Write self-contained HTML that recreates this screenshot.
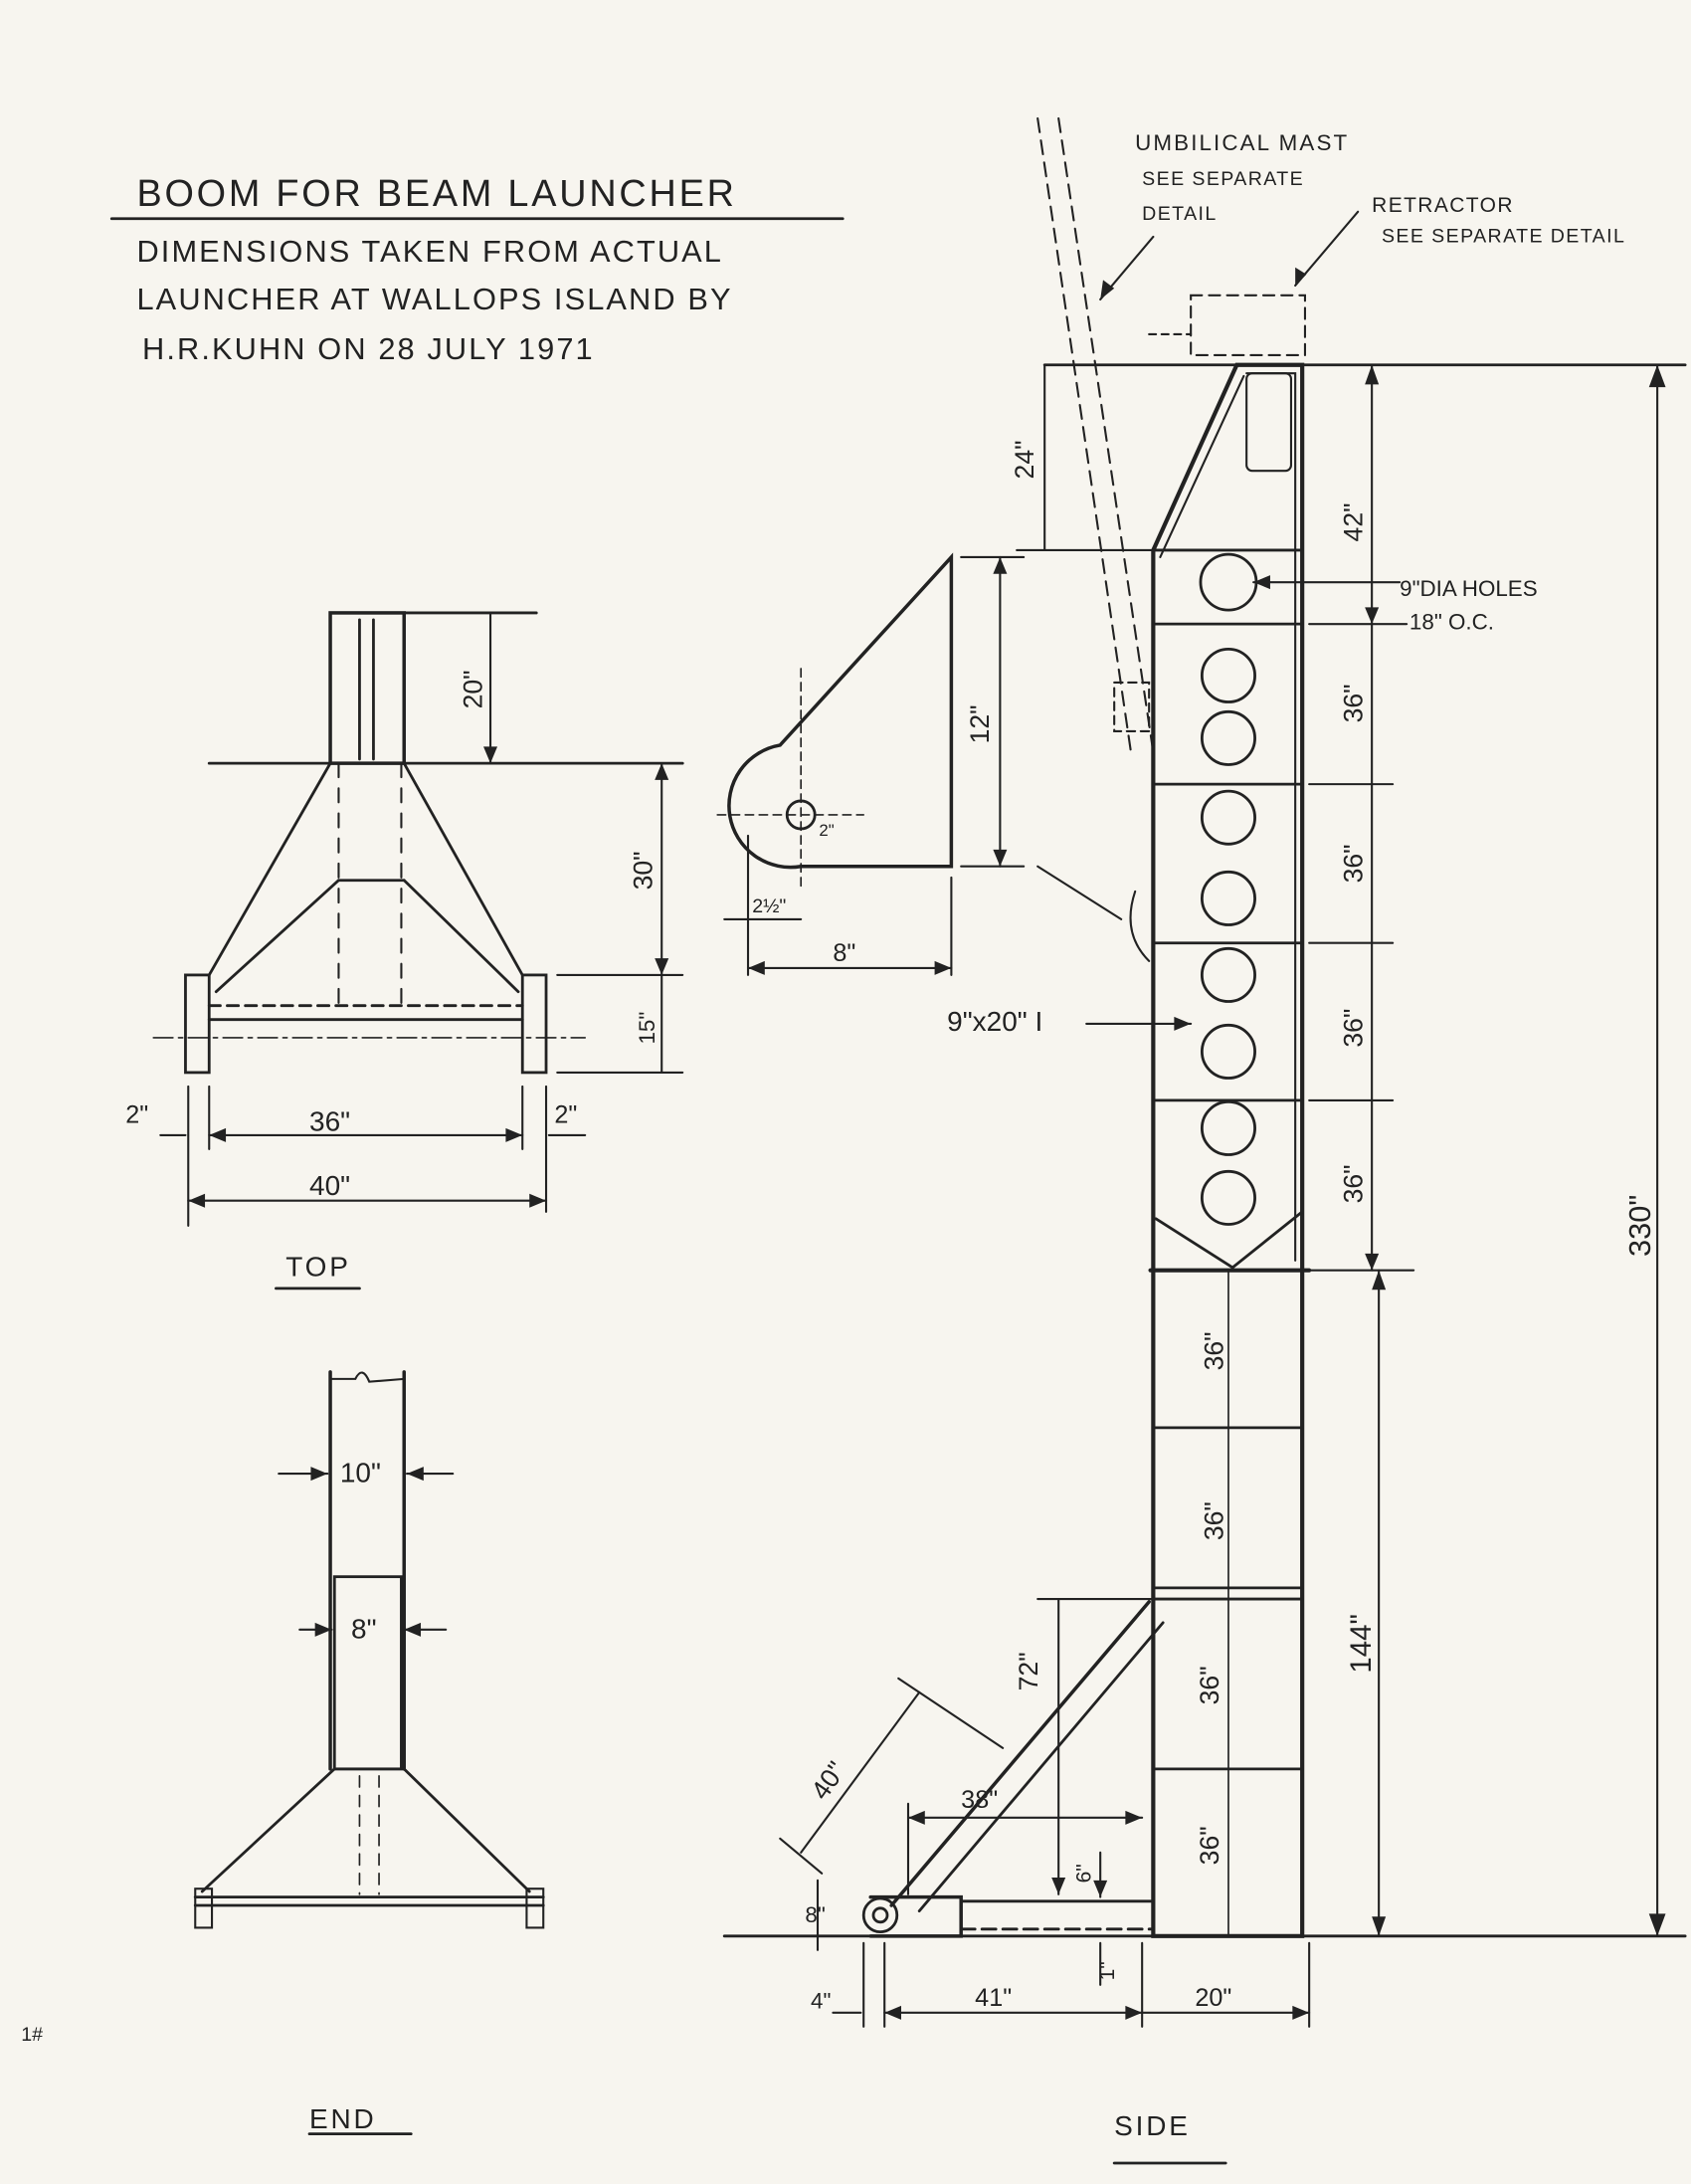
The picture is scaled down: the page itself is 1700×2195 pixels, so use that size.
<!DOCTYPE html>
<html><head><meta charset="utf-8"><style>
html,body{margin:0;padding:0;background:#f7f5ef;}
svg{display:block}
text{font-family:"Liberation Sans",sans-serif;fill:#222;}
</style></head><body>
<svg width="1700" height="2195" viewBox="0 0 1214 1568" xmlns="http://www.w3.org/2000/svg">
<rect width="1214" height="1568" fill="#f7f5ef"/>
<g stroke="#222" stroke-width="2" fill="none" stroke-linecap="round">
<!-- title underline -->
<line x1="80" y1="157" x2="605" y2="157"/>
<!-- umbilical mast dashed -->
<line x1="745" y1="85" x2="812" y2="540" stroke-dasharray="10,6" stroke-width="1.5"/>
<line x1="760" y1="85" x2="828" y2="540" stroke-dasharray="10,6" stroke-width="1.5"/>
<rect x="800" y="490" width="25" height="35" stroke-dasharray="6,4" stroke-width="1.5"/>
<!-- retractor dashed -->
<rect x="855" y="212" width="82" height="43" stroke-dasharray="8,5" stroke-width="1.5"/>
<line x1="825" y1="240" x2="855" y2="240" stroke-dasharray="5,4" stroke-width="1.5"/>
<line x1="828" y1="170" x2="790" y2="215" stroke-width="1.5"/>
<line x1="975" y1="152" x2="930" y2="205" stroke-width="1.5"/>
<!-- main beam -->
<path d="M888 262 L935 262 L935 1390 L828 1390 L828 395 Z" stroke-width="3"/>
<path d="M895 268 L930 268 L930 905" stroke-width="1.5"/>
<path d="M833 400 L893 270" stroke-width="1.5"/>
<rect x="895" y="268" width="32" height="70" rx="4" stroke-width="1.5"/>
<line x1="828" y1="395" x2="935" y2="395"/>
<line x1="828" y1="448" x2="935" y2="448"/>
<line x1="828" y1="563" x2="935" y2="563"/>
<line x1="828" y1="677" x2="935" y2="677"/>
<line x1="828" y1="790" x2="935" y2="790"/>
<path d="M830 875 L885 910 L935 870"/>
<line x1="826" y1="912" x2="940" y2="912" stroke-width="3"/>
<line x1="828" y1="1025" x2="935" y2="1025"/>
<line x1="828" y1="1140" x2="935" y2="1140"/>
<line x1="828" y1="1148" x2="935" y2="1148"/>
<line x1="828" y1="1270" x2="935" y2="1270"/>
<g stroke-width="2">
<circle cx="882" cy="418" r="20"/><circle cx="882" cy="485" r="19"/><circle cx="882" cy="530" r="19"/>
<circle cx="882" cy="587" r="19"/><circle cx="882" cy="645" r="19"/><circle cx="882" cy="700" r="19"/>
<circle cx="882" cy="755" r="19"/><circle cx="882" cy="810" r="19"/><circle cx="882" cy="860" r="19"/>
</g>
<!-- extension lines -->
<line x1="750" y1="262" x2="1210" y2="262"/>
<line x1="520" y1="1390" x2="1210" y2="1390"/>
<line x1="940" y1="448" x2="1010" y2="448" stroke-width="1.5"/>
<line x1="940" y1="563" x2="1000" y2="563" stroke-width="1.5"/>
<line x1="940" y1="677" x2="1000" y2="677" stroke-width="1.5"/>
<line x1="940" y1="790" x2="1000" y2="790" stroke-width="1.5"/>
<line x1="940" y1="912" x2="1015" y2="912" stroke-width="1.5"/>
<!-- dim lines -->
<line x1="985" y1="262" x2="985" y2="912" stroke-width="1.5"/>
<line x1="990" y1="912" x2="990" y2="1390" stroke-width="1.5"/>
<line x1="1190" y1="262" x2="1190" y2="1390" stroke-width="1.5"/>
<line x1="882" y1="912" x2="882" y2="1390" stroke-width="1.2"/>
<line x1="900" y1="418" x2="1005" y2="418" stroke-width="1.5"/>
<!-- 24 dim -->
<line x1="750" y1="262" x2="750" y2="395" stroke-width="1.5"/>
<line x1="730" y1="395" x2="830" y2="395" stroke-width="1.5"/>
<!-- bracket -->
<path d="M683 400 L560 535 A40 40 0 0 0 575 622 L683 622 Z" stroke-width="2.5"/>
<circle cx="575" cy="585" r="10"/>
<line x1="515" y1="585" x2="620" y2="585" stroke-dasharray="6,4" stroke-width="1.2"/>
<line x1="575" y1="480" x2="575" y2="640" stroke-dasharray="6,4" stroke-width="1.2"/>
<line x1="718" y1="400" x2="718" y2="622" stroke-width="1.5"/>
<line x1="690" y1="400" x2="735" y2="400" stroke-width="1.5"/>
<line x1="690" y1="622" x2="735" y2="622" stroke-width="1.5"/>
<line x1="537" y1="600" x2="537" y2="700" stroke-width="1.5"/>
<line x1="537" y1="695" x2="683" y2="695" stroke-width="1.5"/>
<line x1="683" y1="630" x2="683" y2="700" stroke-width="1.5"/>
<line x1="520" y1="660" x2="575" y2="660" stroke-width="1.5"/>
<line x1="745" y1="622" x2="805" y2="660" stroke-width="1.5"/>
<path d="M815 640 Q805 670 825 690" stroke-width="1.5"/>
<line x1="780" y1="735" x2="855" y2="735" stroke-width="1.5"/>
<!-- TOP view -->
<rect x="237" y="440" width="53" height="108" stroke-width="2.5"/>
<line x1="258" y1="445" x2="258" y2="545"/><line x1="268" y1="445" x2="268" y2="545"/>
<line x1="150" y1="548" x2="490" y2="548"/>
<line x1="237" y1="548" x2="150" y2="700"/><line x1="290" y1="548" x2="375" y2="700"/>
<line x1="243" y1="632" x2="290" y2="632"/>
<line x1="243" y1="632" x2="155" y2="712"/><line x1="290" y1="632" x2="372" y2="712"/>
<line x1="243" y1="548" x2="243" y2="720" stroke-dasharray="10,8" stroke-width="1.5"/>
<line x1="288" y1="548" x2="288" y2="720" stroke-dasharray="10,8" stroke-width="1.5"/>
<line x1="150" y1="722" x2="375" y2="722" stroke-dasharray="8,5"/>
<line x1="150" y1="732" x2="375" y2="732"/>
<rect x="133" y="700" width="17" height="70"/><rect x="375" y="700" width="17" height="70"/>
<line x1="110" y1="745" x2="420" y2="745" stroke-dasharray="14,4,3,4" stroke-width="1.2"/>
<line x1="290" y1="440" x2="385" y2="440"/>
<line x1="352" y1="440" x2="352" y2="548" stroke-width="1.5"/>
<line x1="475" y1="548" x2="475" y2="770" stroke-width="1.5"/>
<line x1="400" y1="700" x2="490" y2="700" stroke-width="1.5"/>
<line x1="400" y1="770" x2="490" y2="770" stroke-width="1.5"/>
<line x1="135" y1="780" x2="135" y2="880" stroke-width="1.5"/>
<line x1="150" y1="780" x2="150" y2="825" stroke-width="1.5"/>
<line x1="375" y1="780" x2="375" y2="825" stroke-width="1.5"/>
<line x1="392" y1="780" x2="392" y2="870" stroke-width="1.5"/>
<line x1="150" y1="815" x2="375" y2="815" stroke-width="1.5"/>
<line x1="135" y1="862" x2="392" y2="862" stroke-width="1.5"/>
<line x1="115" y1="815" x2="133" y2="815" stroke-width="1.5"/>
<line x1="394" y1="815" x2="420" y2="815" stroke-width="1.5"/>
<line x1="198" y1="925" x2="258" y2="925"/>
<!-- END view -->
<line x1="237" y1="985" x2="237" y2="1270" stroke-width="2.5"/>
<line x1="290" y1="985" x2="290" y2="1270" stroke-width="2.5"/>
<path d="M237 990 L255 990 Q260 980 265 992 L290 990" stroke-width="1.5"/>
<line x1="200" y1="1058" x2="235" y2="1058" stroke-width="1.5"/>
<line x1="292" y1="1058" x2="325" y2="1058" stroke-width="1.5"/>
<rect x="240" y="1132" width="48" height="138" stroke-width="2"/>
<line x1="215" y1="1170" x2="238" y2="1170" stroke-width="1.5"/>
<line x1="290" y1="1170" x2="320" y2="1170" stroke-width="1.5"/>
<line x1="240" y1="1270" x2="290" y2="1270"/>
<line x1="240" y1="1270" x2="145" y2="1358"/><line x1="290" y1="1270" x2="380" y2="1358"/>
<line x1="258" y1="1275" x2="258" y2="1360" stroke-dasharray="8,6" stroke-width="1.2"/>
<line x1="272" y1="1275" x2="272" y2="1360" stroke-dasharray="8,6" stroke-width="1.2"/>
<line x1="140" y1="1362" x2="390" y2="1362"/>
<line x1="140" y1="1368" x2="390" y2="1368"/>
<rect x="140" y="1356" width="12" height="28" stroke-width="1.5"/>
<rect x="378" y="1356" width="12" height="28" stroke-width="1.5"/>
<line x1="222" y1="1532" x2="295" y2="1532"/>
<!-- lower side: strut -->
<line x1="640" y1="1368" x2="825" y2="1150" stroke-width="2.5"/>
<line x1="660" y1="1372" x2="835" y2="1165" stroke-width="2"/>
<path d="M625 1362 L690 1362 L690 1390 L625 1390" stroke-width="2.5"/>
<circle cx="632" cy="1375" r="12"/><circle cx="632" cy="1375" r="5"/>
<line x1="690" y1="1365" x2="828" y2="1365"/>
<line x1="690" y1="1385" x2="828" y2="1385" stroke-dasharray="10,5"/>
<line x1="635" y1="1395" x2="635" y2="1455" stroke-width="1.5"/>
<line x1="620" y1="1395" x2="620" y2="1455" stroke-width="1.5"/>
<line x1="820" y1="1395" x2="820" y2="1455" stroke-width="1.5"/>
<line x1="940" y1="1395" x2="940" y2="1455" stroke-width="1.5"/>
<line x1="635" y1="1445" x2="820" y2="1445" stroke-width="1.5"/>
<line x1="820" y1="1445" x2="940" y2="1445" stroke-width="1.5"/>
<line x1="598" y1="1445" x2="618" y2="1445" stroke-width="1.5"/>
<line x1="575" y1="1330" x2="660" y2="1215" stroke-width="1.5"/>
<line x1="560" y1="1320" x2="590" y2="1345" stroke-width="1.5"/>
<line x1="645" y1="1205" x2="720" y2="1255" stroke-width="1.5"/>
<line x1="760" y1="1148" x2="760" y2="1360" stroke-width="1.5"/>
<line x1="745" y1="1148" x2="828" y2="1148" stroke-width="1.5"/>
<line x1="652" y1="1305" x2="820" y2="1305" stroke-width="1.5"/>
<line x1="652" y1="1295" x2="652" y2="1360" stroke-width="1.5"/>
<line x1="790" y1="1330" x2="790" y2="1362" stroke-width="1.5"/>
<line x1="790" y1="1395" x2="790" y2="1425" stroke-width="1.5"/>
<line x1="587" y1="1350" x2="587" y2="1400" stroke-width="1.5"/>
<line x1="800" y1="1553" x2="880" y2="1553"/>
</g>
<!-- arrowheads -->
<g fill="#222">
<path d="M985 262 l-5 14 h10z"/><path d="M985 448 l-5 -12 h10z"/><path d="M985 912 l-5 -12 h10z"/>
<path d="M1190 262 l-6 16 h12z"/><path d="M1190 1390 l-6 -16 h12z"/>
<path d="M990 1390 l-5 -14 h10z"/><path d="M990 912 l-5 14 h10z"/>
<path d="M900 418 l12 -5 v10z"/><path d="M855 735 l-12 -5 v10z"/>
<path d="M718 400 l-5 12 h10z"/><path d="M718 622 l-5 -12 h10z"/>
<path d="M537 695 l12 -5 v10z"/><path d="M683 695 l-12 -5 v10z"/>
<path d="M352 548 l-5 -12 h10z"/><path d="M475 548 l-5 12 h10z"/><path d="M475 700 l-5 -12 h10z"/>
<path d="M150 815 l12 -5 v10z"/><path d="M375 815 l-12 -5 v10z"/>
<path d="M135 862 l12 -5 v10z"/><path d="M392 862 l-12 -5 v10z"/>
<path d="M235 1058 l-12 -5 v10z"/><path d="M292 1058 l12 -5 v10z"/>
<path d="M238 1170 l-12 -5 v10z"/><path d="M290 1170 l12 -5 v10z"/>
<path d="M635 1445 l12 -5 v10z"/><path d="M820 1445 l-12 -5 v10z"/><path d="M940 1445 l-12 -5 v10z"/>
<path d="M652 1305 l12 -5 v10z"/><path d="M820 1305 l-12 -5 v10z"/>
<path d="M760 1360 l-5 -12 h10z"/><path d="M790 1362 l-5 -12 h10z"/>
<path d="M790 215 l2 -14 l8 6z"/><path d="M930 205 l0 -13 l8 5z"/>
</g>
<!-- text -->
<g font-size="22">
<text x="98" y="148" font-size="27" letter-spacing="2">BOOM FOR BEAM LAUNCHER</text>
<text x="98" y="188" letter-spacing="1.5">DIMENSIONS TAKEN FROM ACTUAL</text>
<text x="98" y="222" letter-spacing="1.5">LAUNCHER AT WALLOPS ISLAND BY</text>
<text x="102" y="258" letter-spacing="1.5">H.R.KUHN  ON  28 JULY 1971</text>
<text x="815" y="108" font-size="16" letter-spacing="1.5">UMBILICAL MAST</text>
<text x="820" y="133" font-size="14" letter-spacing="1">SEE SEPARATE</text>
<text x="820" y="158" font-size="14" letter-spacing="1">DETAIL</text>
<text x="985" y="152" font-size="15" letter-spacing="1">RETRACTOR</text>
<text x="992" y="174" font-size="14" letter-spacing="1">SEE SEPARATE DETAIL</text>
<text x="1005" y="428" font-size="16">9"DIA HOLES</text>
<text x="1012" y="452" font-size="16">18" O.C.</text>
<text x="680" y="740" font-size="20">9"x20" I</text>
<text x="598" y="690" font-size="18">8"</text>
<text x="540" y="655" font-size="14">2½"</text>
<text x="588" y="600" font-size="12">2"</text>
<text x="90" y="806" font-size="18">2"</text>
<text x="398" y="806" font-size="18">2"</text>
<text x="222" y="812" font-size="20">36"</text>
<text x="222" y="858" font-size="20">40"</text>
<text x="205" y="916" font-size="20" letter-spacing="2">TOP</text>
<text x="244" y="1064" font-size="20">10"</text>
<text x="252" y="1176" font-size="20">8"</text>
<text x="222" y="1528" font-size="20" letter-spacing="2">END</text>
<text x="800" y="1533" font-size="20" letter-spacing="2">SIDE</text>
<text x="690" y="1298" font-size="18">38"</text>
<text x="578" y="1380" font-size="16">8"</text>
<text x="582" y="1442" font-size="16">4"</text>
<text x="700" y="1440" font-size="18">41"</text>
<text x="858" y="1440" font-size="18">20"</text>
<text x="15" y="1465" font-size="14">1#</text>
</g>
<g font-size="19">
<text transform="translate(742,330) rotate(-90)" text-anchor="middle">24"</text>
<text transform="translate(710,520) rotate(-90)" text-anchor="middle">12"</text>
<text transform="translate(346,495) rotate(-90)" text-anchor="middle">20"</text>
<text transform="translate(468,625) rotate(-90)" text-anchor="middle">30"</text>
<text transform="translate(470,738) rotate(-90)" text-anchor="middle" font-size="16">15"</text>
<text transform="translate(978,375) rotate(-90)" text-anchor="middle">42"</text>
<text transform="translate(978,505) rotate(-90)" text-anchor="middle">36"</text>
<text transform="translate(978,620) rotate(-90)" text-anchor="middle">36"</text>
<text transform="translate(978,738) rotate(-90)" text-anchor="middle">36"</text>
<text transform="translate(978,850) rotate(-90)" text-anchor="middle">36"</text>
<text transform="translate(878,970) rotate(-90)" text-anchor="middle">36"</text>
<text transform="translate(878,1092) rotate(-90)" text-anchor="middle">36"</text>
<text transform="translate(875,1210) rotate(-90)" text-anchor="middle">36"</text>
<text transform="translate(875,1325) rotate(-90)" text-anchor="middle">36"</text>
<text transform="translate(984,1180) rotate(-90)" text-anchor="middle" font-size="21">144"</text>
<text transform="translate(1185,880) rotate(-90)" text-anchor="middle" font-size="22">330"</text>
<text transform="translate(745,1200) rotate(-90)" text-anchor="middle">72"</text>
<text transform="translate(783,1345) rotate(-90)" text-anchor="middle" font-size="15">6"</text>
<text transform="translate(800,1415) rotate(-90)" text-anchor="middle" font-size="15">1"</text>
<text transform="translate(600,1282) rotate(-55)" text-anchor="middle">40"</text>
</g>
</svg>
</body></html>
